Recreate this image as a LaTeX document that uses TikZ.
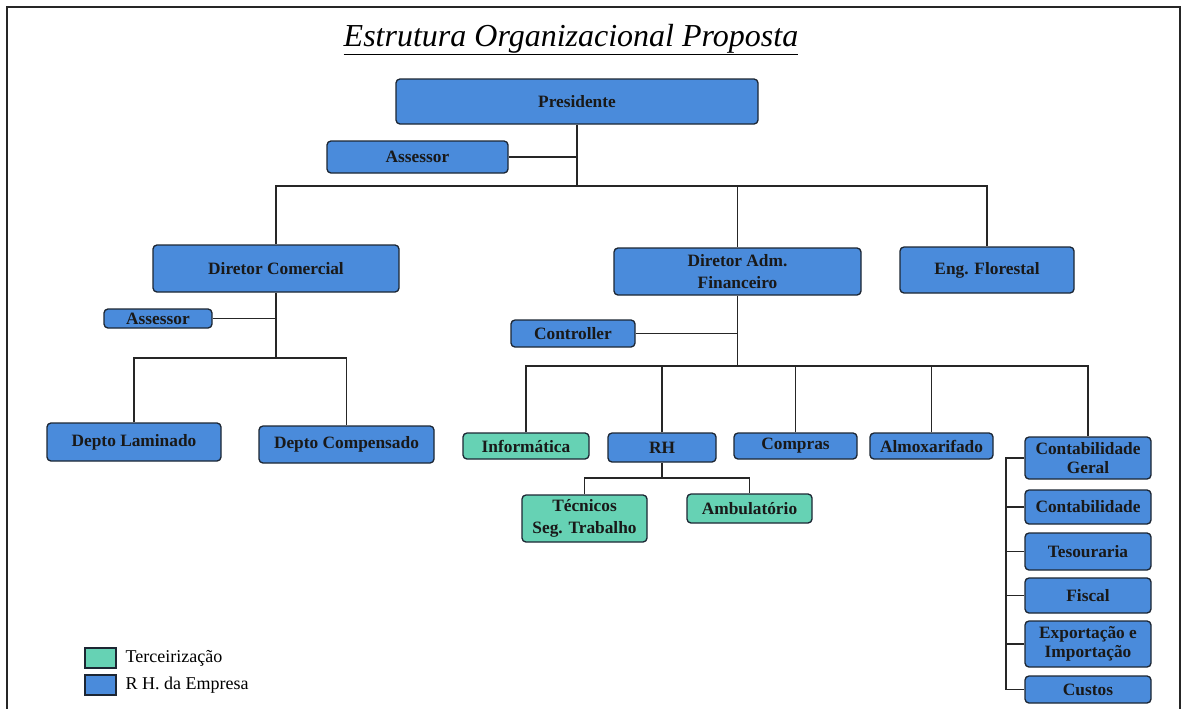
\documentclass[tikz,border=0pt]{standalone}
\usepackage{fontspec}
\setmainfont{Liberation Serif}
\definecolor{rhblue}{HTML}{4A8BDB}
\definecolor{terc}{HTML}{66D2B4}
\definecolor{edge}{HTML}{1C2633}
\begin{document}
\begin{tikzpicture}[x=0.75pt,y=-0.75pt,
  box/.style={draw=edge,line width=1pt,rounded corners=3pt,fill=rhblue,
    font=\bfseries\fontsize{13}{16}\selectfont,align=center,inner sep=0pt,text=black!90},
  tbox/.style={box,fill=terc},
  tight/.style={font=\bfseries\fontsize{13}{14.5}\selectfont},
  conn/.style={draw=black!85,line width=1pt},
  legsq/.style={draw=edge,line width=1pt,minimum width=23.25pt,minimum height=15pt,inner sep=0pt}]
\useasboundingbox (0,0) rectangle (1187,708);
\draw[line width=1.3pt,black!85] (7,712) -- (7,7) -- (1180,7) -- (1180,712);
\node[anchor=base,font=\itshape\fontsize{24}{26}\selectfont] (title) at (571,46) {\underline{Estrutura Organizacional Proposta}};
% boxes
\node[box,minimum width=271.5pt,minimum height=33.75pt] (pres) at (577,101.5) {Presidente};
\node[box,minimum width=135.75pt,minimum height=24pt] (ass1) at (417.5,157) {Assessor};
\node[box,minimum width=184.5pt,minimum height=35.25pt] (dcom) at (276,268.5) {Diretor Comercial};
\node[box,minimum width=185.25pt,minimum height=35.25pt] (dadm) at (737.5,271.5) {Diretor Adm.\\Financeiro};
\node[box,minimum width=130.5pt,minimum height=34.5pt] (eng) at (987,270) {Eng. Florestal};
\node[box,minimum width=81pt,minimum height=14.25pt] (ass2) at (158,318.5) {Assessor};
\node[box,minimum width=93pt,minimum height=20.25pt] (ctrl) at (573,333.5) {Controller};
\node[box,minimum width=130.5pt,minimum height=28.5pt] (lam) at (134,442) {Depto Laminado};
\node[box,minimum width=131.25pt,minimum height=27.75pt] (comp) at (346.5,444.5) {Depto Compensado};
\node[tbox,minimum width=94.5pt,minimum height=19.5pt] (info) at (526,446) {Informática};
\node[box,minimum width=81pt,minimum height=21.75pt] (rh) at (662,447.5) {RH};
\node[box,minimum width=92.25pt,minimum height=19.5pt] (compras) at (795.5,446) {Compras};
\node[box,minimum width=92.25pt,minimum height=19.5pt] (almox) at (931.5,446) {Almoxarifado};
\node[tbox,minimum width=93.75pt,minimum height=35.25pt] (tec) at (584.5,518.5) {Técnicos\\Seg. Trabalho};
\node[tbox,minimum width=93.75pt,minimum height=21.75pt] (amb) at (749.5,508.5) {Ambulatório};
\node[box,tight,minimum width=94.5pt,minimum height=31.5pt] (cg) at (1088,458) {Contabilidade\\Geral};
\node[box,minimum width=94.5pt,minimum height=25.5pt] (cont) at (1088,507) {Contabilidade};
\node[box,minimum width=94.5pt,minimum height=27.75pt] (tes) at (1088,551.5) {Tesouraria};
\node[box,minimum width=94.5pt,minimum height=26.25pt] (fis) at (1088,595.5) {Fiscal};
\node[box,tight,minimum width=94.5pt,minimum height=34.5pt] (exp) at (1088,644) {Exportação e\\Importação};
\node[box,minimum width=94.5pt,minimum height=20.25pt] (cus) at (1088,689.5) {Custos};
% bus coordinates
\coordinate (b1) at (576,186);
\coordinate (b2) at (275,358);
\coordinate (b3) at (738,366);
\coordinate (b4) at (662,478);
\coordinate (v) at (1006,0);
% connectors
\draw[conn] (pres.south) -- (pres.south |- b1);
\draw[conn] (ass1.east) -- (ass1.east -| pres.south);
\draw[conn] (dcom.north) -- (dcom.north |- b1) -- (eng.north |- b1) -- (eng.north);
\draw[conn] (dadm.north) -- (dadm.north |- b1);
\draw[conn] (dcom.south) -- (dcom.south |- b2);
\draw[conn] (ass2.east) -- (ass2.east -| dcom.south);
\draw[conn] (lam.north) -- (lam.north |- b2) -- (comp.north |- b2) -- (comp.north);
\draw[conn] (dadm.south) -- (dadm.south |- b3);
\draw[conn] (ctrl.east) -- (ctrl.east -| dadm.south);
\draw[conn] (info.north) -- (info.north |- b3) -- (cg.north |- b3) -- (cg.north);
\draw[conn] (rh.north) -- (rh.north |- b3);
\draw[conn] (compras.north) -- (compras.north |- b3);
\draw[conn] (almox.north) -- (almox.north |- b3);
\draw[conn] (rh.south) -- (rh.south |- b4);
\draw[conn] (tec.north) -- (tec.north |- b4) -- (amb.north |- b4) -- (amb.north);
\draw[conn] (cg.west) -- (cg.west -| v) -- (cus.west -| v) -- (cus.west);
\draw[conn,line width=2pt] (cg.west -| v) -- (fis.west -| v);
\draw[conn] (cont.west) -- (cont.west -| v);
\draw[conn] (tes.west) -- (tes.west -| v);
\draw[conn] (fis.west) -- (fis.west -| v);
\draw[conn] (exp.west) -- (exp.west -| v);
% legend
\node[legsq,fill=terc] (lg1) at (100.5,658) {};
\node[legsq,fill=rhblue] (lg2) at (100.5,685) {};
\node[anchor=west,font=\fontsize{13.5}{14}\selectfont] (lt1) at (121,658) {Terceirização};
\node[anchor=west,font=\fontsize{13.5}{14}\selectfont] (lt2) at (121,685) {R H. da Empresa};
\end{tikzpicture}
\end{document}
